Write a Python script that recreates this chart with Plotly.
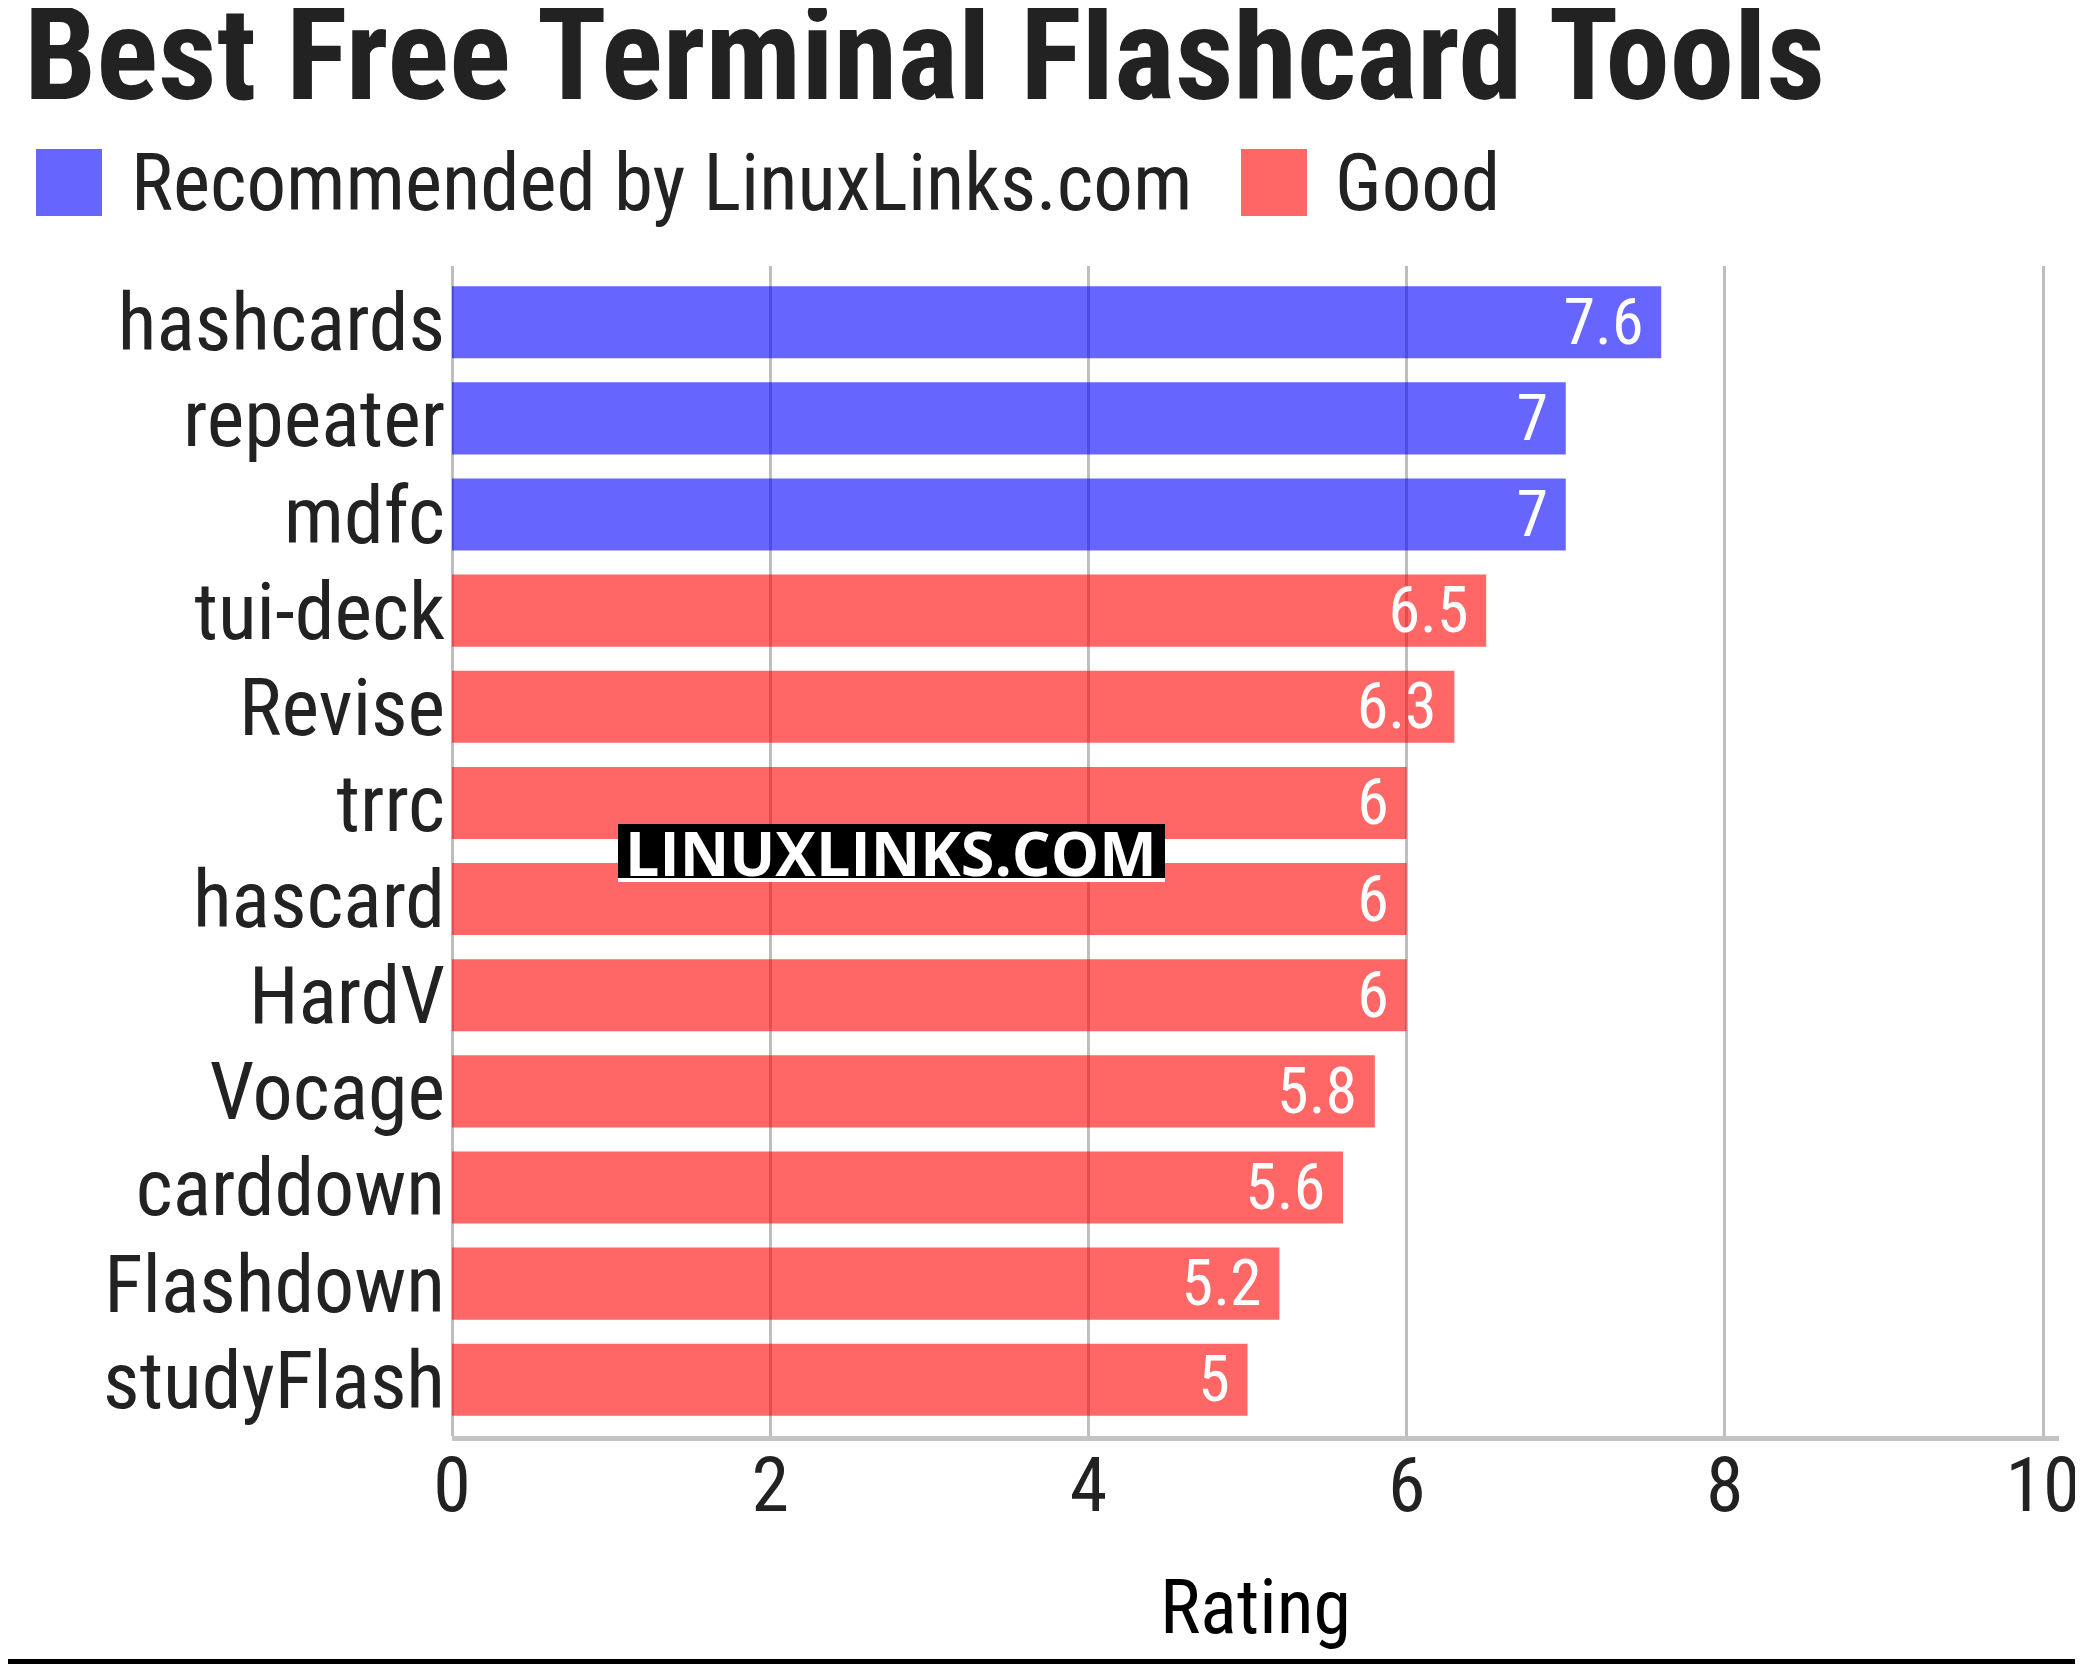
import plotly.graph_objects as go

# ---- data ----
rec_names = ["hashcards", "repeater", "mdfc"]
rec_values = [7.6, 7, 7]
good_names = ["tui-deck", "Revise", "trrc", "hascard", "HardV", "Vocage",
              "carddown", "Flashdown", "studyFlash"]
good_values = [6.5, 6.3, 6, 6, 6, 5.8, 5.6, 5.2, 5]
series_names = ["Recommended by LinuxLinks.com", "Good"]
series_colors = ["rgba(0,0,255,0.6)", "rgba(255,0,0,0.6)"]
x_ticks = [0, 2, 4, 6, 8, 10]
title_text = "Best Free Terminal Flashcard Tools"
x_title = "Rating"
watermark = "LINUXLINKS.COM"

FONT = "Roboto Condensed, Liberation Sans Narrow, Roboto, sans-serif"
OFF = 8  # page body margin
W, H = 2075, 1658
L, R, T, B = 444, 24, 258, 230
PW, PH = W - L - R, H - T - B


def px(x):  # page pixel -> paper
    return (x - OFF - L) / PW


def py(y):
    return (H - B - (y - OFF)) / PH


categories = rec_names + good_names
n = len(categories)

fig = go.Figure()
for name, cats, vals, col in [
    (series_names[0], rec_names, rec_values, series_colors[0]),
    (series_names[1], good_names, good_values, series_colors[1]),
]:
    fig.add_trace(go.Bar(
        x=vals, y=cats, orientation="h", name=name,
        marker=dict(color=col, line=dict(width=0)),
        texttemplate="%{x}\u00a0", textposition="inside", textangle=0,
        insidetextanchor="end", constraintext="none",
        insidetextfont=dict(family=FONT, size=64, color="white"),
        showlegend=False, hoverinfo="x+y",
    ))

# custom legend (large square swatches)
leg_items = [(36, 129), (1241, 1333)]
for (sx, tx), name, col in zip(leg_items, series_names, series_colors):
    fig.add_shape(type="rect", xref="paper", yref="paper",
                  x0=px(sx), x1=px(sx + 66), y0=py(216), y1=py(149),
                  fillcolor=col, line=dict(width=0), layer="above")
    fig.add_annotation(text=name, xref="paper", yref="paper",
                       x=px(tx), y=py(183), xanchor="left", yanchor="middle",
                       showarrow=False,
                       font=dict(family=FONT, size=79, color="#222222"))

# x-axis title
fig.add_annotation(text=x_title, xref="paper", yref="paper",
                   x=0.5, y=py(1607), xanchor="center", yanchor="middle",
                   showarrow=False,
                   font=dict(family=FONT, size=76, color="black"))

# watermark
fig.add_shape(type="rect", xref="paper", yref="paper",
              x0=px(618), x1=px(1165), y0=py(878), y1=py(824),
              fillcolor="black", line=dict(width=0), layer="above")
fig.add_shape(type="rect", xref="paper", yref="paper",
              x0=px(618), x1=px(1165), y0=py(882), y1=py(878),
              fillcolor="white", line=dict(width=0), layer="above")
fig.add_annotation(text="<b>" + watermark + "</b>", xref="paper", yref="paper",
                   x=px(891), y=py(852), xanchor="center", yanchor="middle",
                   showarrow=False,
                   font=dict(family="Open Sans, DejaVu Sans, sans-serif",
                             size=61, color="white"))

# bottom rule
fig.add_shape(type="rect", xref="paper", yref="paper",
              x0=px(0), x1=px(2083 + 20), y0=py(1664), y1=py(1659),
              fillcolor="black", line=dict(width=0), layer="above")

fig.update_layout(
    width=W, height=H,
    margin=dict(l=L, r=R, t=T, b=B, pad=0, autoexpand=False),
    paper_bgcolor="white", plot_bgcolor="white",
    barmode="overlay", bargap=0.25,
    showlegend=False,
    title=dict(text="<b>" + title_text + "</b>", xref="container", yref="container",
               x=16 / W, xanchor="left", y=1 - 1 / H, yanchor="top",
               font=dict(family=FONT, size=129, color="#222222")),
    xaxis=dict(range=[0, 10.1], tickvals=x_ticks, showgrid=True, automargin=False,
               gridcolor="#bebebe", gridwidth=3,
               zeroline=True, zerolinecolor="#bebebe", zerolinewidth=3,
               showline=True, linecolor="#c4c4c4", linewidth=5,
               ticks="", ticklabelstandoff=-21,
               tickfont=dict(family=FONT, size=76, color="#222222")),
    yaxis=dict(type="category", categoryorder="array", categoryarray=categories,
               tickmode="array", tickvals=categories, automargin=False,
               range=[n - 1 + 0.585, -0.585], showgrid=False,
               ticks="", ticklabelstandoff=6,
               tickfont=dict(family=FONT, size=80, color="#222222")),
)

fig.write_html("out.html")
